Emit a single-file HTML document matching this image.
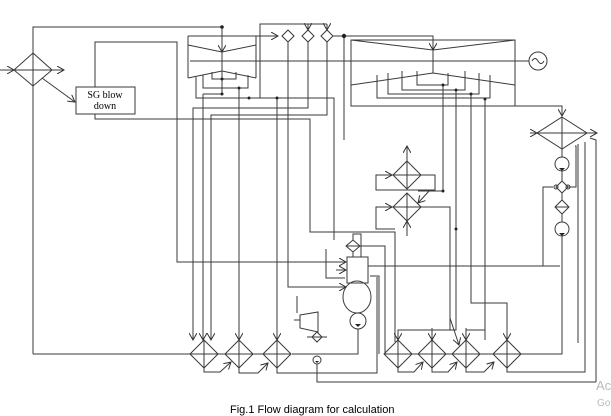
<!DOCTYPE html>
<html><head><meta charset="utf-8"><style>
html,body{margin:0;padding:0;background:#fff;}
svg{display:block;}
text{font-family:"Liberation Serif",serif;}
</style></head><body>
<svg width="611" height="416" viewBox="0 0 611 416" xmlns="http://www.w3.org/2000/svg">
<defs>
<marker id="a" markerWidth="8" markerHeight="8" refX="7" refY="4" orient="auto" markerUnits="userSpaceOnUse">
<path d="M0,0 L7,4 L0,8" fill="none" stroke="#333" stroke-width="1"/></marker>
</defs>
<g fill="none" stroke="#3a3a3a" stroke-width="1">
<!-- left SG diamond -->
<path d="M33,53 L52,70 L33,86 L14,70 Z"/>
<line x1="14" y1="70" x2="52" y2="70"/>
<line x1="0" y1="70" x2="14" y2="70" marker-end="url(#a)"/>
<line x1="52" y1="70" x2="64" y2="70" marker-end="url(#a)"/>
<line x1="42" y1="78" x2="75" y2="102" marker-end="url(#a)"/>
<polyline points="33,354 33,27 222,27"/>
<!-- SG blowdown box -->
<rect x="76" y="87" width="59" height="27"/>
<polyline points="95,87 95,42 177,42 177,262 340,262"/>
<polyline points="95,114 95,119 310,119 310,232 395,232 395,342"/>
<!-- HP turbine -->
<polyline points="188,36 256,36"/>
<line x1="188" y1="36" x2="188" y2="78"/><line x1="256" y1="36" x2="256" y2="78"/>
<polyline points="188,45 222,52 256,45"/>
<polyline points="188,78 222,71 256,78"/>
<line x1="222" y1="27" x2="222" y2="52" marker-end="url(#a)"/>
<line x1="222" y1="52" x2="222" y2="94"/>
<line x1="190" y1="61" x2="529" y2="61"/>
<polyline points="212,72 212,79 236,79 236,72"/>
<polyline points="203,75 203,88 248,88 248,75"/>
<polyline points="196,77 196,98 334,98 334,240"/>
<line x1="203" y1="94" x2="222" y2="94"/>
<!-- top small diamonds -->
<polyline points="256,36 278,36" marker-end="url(#a)"/>
<path d="M282,36 L288,30 L294,36 L288,42 Z"/>
<path d="M302,36 L308,30 L314,36 L308,42 Z"/>
<path d="M321,36 L327,30 L333,36 L327,42 Z"/>
<polyline points="260,98 260,24 327,24"/>
<line x1="308" y1="24" x2="308" y2="30" marker-end="url(#a)"/>
<line x1="327" y1="24" x2="327" y2="30" marker-end="url(#a)"/>
<polyline points="333,36 433,36 433,50"/>
<line x1="433" y1="40" x2="433" y2="50" marker-end="url(#a)"/>
<line x1="344" y1="36" x2="344" y2="140"/>
<!-- verticals from HP to left heaters -->
<polyline points="193,340 193,108 308,108 308,42"/>
<line x1="203" y1="94" x2="203" y2="340" marker-end="url(#a)"/>
<polyline points="211,340 211,115 327,115 327,42"/>
<line x1="239" y1="88" x2="239" y2="340" marker-end="url(#a)"/>
<line x1="277" y1="98" x2="277" y2="340" marker-end="url(#a)"/>
<polyline points="288,42 288,287 340,287"/>
<line x1="193" y1="330" x2="193" y2="340" marker-end="url(#a)"/>
<line x1="211" y1="330" x2="211" y2="340" marker-end="url(#a)"/>
<!-- LP turbine -->
<rect x="351" y="40" width="164" height="66"/>
<polyline points="351,40 433,50 515,40"/>
<polyline points="351,85 433,73 515,85"/>
<line x1="433" y1="50" x2="433" y2="73"/>
<circle cx="538" cy="61" r="9"/>
<path d="M532,61 q3,-5 6,0 t6,0"/>
<polyline points="377,75 377,98 490,98 490,75"/>
<polyline points="388,73 388,94 479,94 479,73"/>
<polyline points="402,71 402,90 465,90 465,71"/>
<polyline points="417,71 417,85 448,85 448,73"/>
<polyline points="515,106 562,106 562,116"/>
<line x1="562" y1="108" x2="562" y2="116" marker-end="url(#a)"/>
<polyline points="443,85 443,191 418,191"/>
<polyline points="456,90 456,330 398,330 398,340"/>
<polyline points="471,94 471,303 507,303 507,340"/>
<line x1="485" y1="99" x2="485" y2="340"/>
<!-- condenser -->
<path d="M562,117 L587,133 L562,149 L537,133 Z"/>
<line x1="537" y1="133" x2="587" y2="133"/><line x1="562" y1="117" x2="562" y2="149"/>
<line x1="530" y1="133" x2="537" y2="133" marker-end="url(#a)"/>
<line x1="587" y1="133" x2="597" y2="133" marker-end="url(#a)"/>
<circle cx="562" cy="164" r="7"/>
<path d="M556,187 L562,181 L568,187 L562,193 Z"/>
<circle cx="556" cy="187" r="2"/><circle cx="568" cy="187" r="2"/>
<path d="M555,207 L562,200 L569,207 L562,214 Z"/><line x1="555" y1="207" x2="569" y2="207"/>
<circle cx="562" cy="229" r="7"/>
<line x1="562" y1="149" x2="562" y2="157"/><line x1="562" y1="171" x2="562" y2="181"/>
<line x1="562" y1="193" x2="562" y2="200"/><line x1="562" y1="214" x2="562" y2="222"/>
<polyline points="562,236 562,354 521,354"/>
<polyline points="568,187 576,187 576,146 575,146"/>
<polyline points="543,266 543,187 553,187"/>
<polyline points="585,354 585,142"/>
<polyline points="596,382 596,140 590,138"/>
<polyline points="578,343 578,144"/>
<!-- middle heaters -->
<path d="M407,161 L421,175 L407,189 L393,175 Z"/><line x1="393" y1="175" x2="421" y2="175"/><line x1="407" y1="161" x2="407" y2="189"/>
<path d="M407,193 L421,207 L407,221 L393,207 Z"/><line x1="393" y1="207" x2="421" y2="207"/><line x1="407" y1="193" x2="407" y2="221"/>
<line x1="407" y1="161" x2="407" y2="146" marker-end="url(#a)"/>
<polyline points="393,175 376,175 376,190 435,190 435,175 421,175"/>
<polyline points="393,207 376,207 376,229 395,229"/>
<line x1="376" y1="175" x2="392" y2="175" marker-end="url(#a)"/>
<line x1="376" y1="207" x2="392" y2="207" marker-end="url(#a)"/>
<polyline points="421,207 450,207 450,330"/>
<line x1="407" y1="236" x2="407" y2="221" marker-end="url(#a)"/>
<line x1="430" y1="190" x2="418" y2="203" marker-end="url(#a)"/>
<!-- deaerator -->
<rect x="347" y="257" width="21" height="26"/>
<ellipse cx="357" cy="297" rx="14" ry="16"/>
<path d="M353,240 L360,246 L353,252 L346,246 Z"/><line x1="346" y1="246" x2="360" y2="246"/>
<polyline points="353,240 353,234 361,234 361,257"/>
<line x1="353" y1="252" x2="353" y2="257"/>
<polyline points="360,246 385,246 385,354"/>
<polyline points="368,266 560,266"/>
<polyline points="379,354 379,276 370,276"/>
<polyline points="326,249 326,278 345,278"/>
<line x1="336" y1="262" x2="346" y2="262" marker-end="url(#a)"/>
<line x1="336" y1="270" x2="346" y2="270" marker-end="url(#a)"/>
<line x1="336" y1="287" x2="346" y2="287" marker-end="url(#a)"/>
<circle cx="358" cy="321" r="8"/>
<line x1="357" y1="313" x2="357" y2="313"/>
<polyline points="358,329 358,354 292,354"/>
<!-- feed pump turbine -->
<path d="M300,315 L318,312 L318,332 L300,328 Z"/>
<line x1="294" y1="320" x2="300" y2="320"/>
<polyline points="297,296 297,313" />
<path d="M312,337 L317,332 L322,337 L317,342 Z"/><line x1="307" y1="337" x2="327" y2="337"/>
<circle cx="317" cy="360" r="4"/>
<polyline points="317,364 317,382 596,382"/>
<!-- left heater row -->
<g>
<path d="M204,340 L218,354 L204,368 L190,354 Z"/><line x1="190" y1="354" x2="218" y2="354"/><line x1="204" y1="340" x2="204" y2="368"/>
<path d="M239,340 L253,354 L239,368 L225,354 Z"/><line x1="225" y1="354" x2="253" y2="354"/><line x1="239" y1="340" x2="239" y2="368"/>
<path d="M277,340 L291,354 L277,368 L263,354 Z"/><line x1="263" y1="354" x2="291" y2="354"/><line x1="277" y1="340" x2="277" y2="368"/>
<line x1="33" y1="354" x2="190" y2="354"/>
<line x1="218" y1="354" x2="225" y2="354"/><line x1="253" y1="354" x2="263" y2="354"/>
<polyline points="204,368 204,372 220,372 231,362" marker-end="url(#a)"/>
<polyline points="239,368 239,373 258,373 268,363" marker-end="url(#a)"/>
<polyline points="277,368 277,373 377,373 377,277"/>
</g>
<!-- right heater row -->
<g>
<path d="M398,340 L412,354 L398,368 L384,354 Z"/><line x1="384" y1="354" x2="412" y2="354"/><line x1="398" y1="340" x2="398" y2="368"/>
<path d="M432,340 L446,354 L432,368 L418,354 Z"/><line x1="418" y1="354" x2="446" y2="354"/><line x1="432" y1="340" x2="432" y2="368"/>
<path d="M466,340 L480,354 L466,368 L452,354 Z"/><line x1="452" y1="354" x2="480" y2="354"/><line x1="466" y1="340" x2="466" y2="368"/>
<path d="M507,340 L521,354 L507,368 L493,354 Z"/><line x1="493" y1="354" x2="521" y2="354"/><line x1="507" y1="340" x2="507" y2="368"/>
<line x1="412" y1="354" x2="418" y2="354"/><line x1="446" y1="354" x2="452" y2="354"/><line x1="480" y1="354" x2="493" y2="354"/>
<polyline points="398,368 398,372 414,372 423,362" marker-end="url(#a)"/>
<polyline points="432,368 432,372 448,372 457,362" marker-end="url(#a)"/>
<polyline points="466,368 466,372 484,372 494,362" marker-end="url(#a)"/>
<polyline points="507,368 507,372 585,372 585,354"/>
<line x1="398" y1="330" x2="398" y2="340" marker-end="url(#a)"/>
<line x1="432" y1="328" x2="432" y2="340" marker-end="url(#a)"/>
<polyline points="450,318 459,345" marker-end="url(#a)"/>
<line x1="466" y1="328" x2="466" y2="340" marker-end="url(#a)"/>
<line x1="507" y1="328" x2="507" y2="340" marker-end="url(#a)"/>
<line x1="485" y1="330" x2="466" y2="330"/>
</g>
</g>
<g fill="#222">
<circle cx="222" cy="27" r="1.8"/><circle cx="344" cy="36" r="2.2"/>
<circle cx="222" cy="79" r="1.5"/><circle cx="222" cy="94" r="1.5"/><circle cx="239" cy="88" r="1.5"/>
<circle cx="249" cy="98" r="1.5"/><circle cx="277" cy="98" r="1.5"/>
<circle cx="443" cy="85" r="1.5"/><circle cx="456" cy="90" r="1.5"/><circle cx="471" cy="94" r="1.5"/><circle cx="485" cy="99" r="1.5"/>
<circle cx="443" cy="191" r="1.5"/><circle cx="456" cy="229" r="1.5"/>
<path d="M559,168 L565,168 L562,171 Z"/><path d="M559,233 L565,233 L562,236 Z"/>
<path d="M355,324 L361,324 L358,327 Z"/><path d="M315,361 L319,361 L317,363 Z"/>
</g>
<text x="105" y="98" font-size="10" text-anchor="middle">SG blow</text>
<text x="105" y="109" font-size="10" text-anchor="middle">down</text>
<text x="230" y="413" font-size="11" style='font-family:"Liberation Sans",sans-serif'>Fig.1 Flow diagram for calculation</text>
<text x="596" y="390" font-size="13" fill="#bbb" style='font-family:"Liberation Sans",sans-serif'>Ac</text>
<text x="597" y="406" font-size="10" fill="#bbb" style='font-family:"Liberation Sans",sans-serif'>Go</text>
</svg>
</body></html>
